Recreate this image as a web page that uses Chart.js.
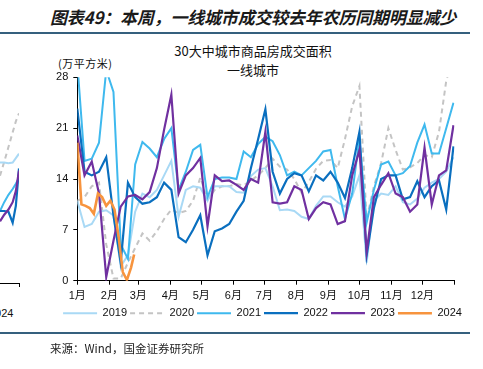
<!DOCTYPE html>
<html>
<head>
<meta charset="utf-8">
<script src="https://cdn.jsdelivr.net/npm/chart.js@4.4.1/dist/chart.umd.min.js"></script>
<style>
body{margin:0;width:483px;height:369px;overflow:hidden;background:#fff;position:relative;font-family:'Noto Sans CJK SC',sans-serif;color:#111}
.t{position:absolute;white-space:nowrap}
.rule{position:absolute;left:0;width:470px;height:2px;background:#35607e}
canvas{position:absolute}
</style>
</head>
<body>
<div class="t" id="hd" style="left:50px;top:5px;font:italic bold 17px/24px 'Noto Sans CJK SC';color:#1a1a1a;letter-spacing:-0.2px">图表49：本周，一线城市成交较去年农历同期明显减少</div>
<div class="rule" style="top:32px"></div>
<div class="t" style="left:153px;width:200px;text-align:center;top:43px;font:13px/16px 'Noto Sans CJK SC'">30大中城市商品房成交面积</div>
<div class="t" style="left:153px;width:200px;text-align:center;top:62px;font:13px/16px 'Noto Sans CJK SC'">一线城市</div>
<div class="t" style="left:58px;top:56px;font:11px/14px 'Noto Sans CJK SC';letter-spacing:0.5px">(万平方米)</div>
<div class="t" style="left:-11px;top:306px;font:11px/14px 'Liberation Sans',sans-serif">2024</div>
<canvas id="left" width="22" height="240" style="left:0;top:60px"></canvas>
<canvas id="main" width="437" height="275" style="left:45px;top:60px"></canvas>
<div class="rule" style="top:332px"></div>
<div class="t" style="left:50px;top:340px;font:11.5px/16px 'Noto Sans CJK SC';color:#222">来源：Wind，国金证券研究所</div>
<script>
// 周度数据（按一年中的天数）
const weekDays = Array.from({length: 53}, (_, i) => i * 7);
const days2024 = [0, 4, 8, 12, 16, 20, 24, 28, 32, 36, 40, 44, 48, 52, 55];

const s2019 = [11,7.4,7.8,9.5,9.7,9,2,3.5,9.5,12,11.5,12.5,14.5,16.5,8.8,12.5,13,12.8,11,13,13,13,12.2,12.1,14.4,15.3,15.5,13,9.7,9.8,9.6,8.8,8.5,10.3,11.6,11.6,10.8,10.2,11.6,14.5,2.5,11,12,11.8,13,10.8,10.5,11.3,12.8,13.5,14,15,17];
const s2020 = [11,11.5,13,13.5,5,0.3,0.3,2.5,4.5,6.5,5.5,6.8,8.5,9.8,9.3,9.6,11,14.2,11.2,12.5,13,13,13.3,13.1,13.8,14.5,15.5,16.8,15.7,15.3,14,12.1,13.6,15.4,16.5,16.6,15.5,19.5,24,26.8,8.5,13,16.2,21,18,15.3,15.6,16.2,17.3,17,20.5,27.5,31];
const s2021 = [30,16.5,16.8,19,29,26,5,3,16,19.1,18.2,17,19.5,21,12.5,15,18,18.7,11.5,14,14.2,14.2,14,17.8,17,18.8,19.8,19.2,17.3,14.5,15,14.5,15.5,16.5,17.8,18,13,8.5,12,19.5,8,12.5,16,16.4,14.5,14.8,15.8,19,21.5,17.5,17.5,21,24.5];
const s2022 = [23.7,15,14.5,15,17,9,2.5,13.5,11.5,10.6,10.8,11.5,13.5,12.5,6,5.3,7,9,3.5,6.8,7.2,7.8,9.5,11,15.5,19.5,23.6,15,12,14,14.8,14.5,12.3,14.5,13.8,15,13.5,11.4,15.5,20.5,3.5,10,14,14.5,14.5,11.2,11.5,13.7,11.5,13,13.8,9.8,18.5];
const s2023 = [20,14.5,16.4,12,0.5,5.5,10.2,11.6,11.8,11.2,12.2,15.5,20.8,25.6,12,14.5,15.5,16.9,7.5,14.5,13.7,13.8,13.2,12.5,14,13.5,20.5,10.8,10.6,10.8,13,12.5,8.5,10,10.8,10.5,7.8,8.2,14.5,18,4,11.5,13.2,14.8,12,11.5,9.5,10.5,18.3,10.5,14.5,15.2,21.4];
const s2024 = [19,10.5,10.3,10,9.2,12,11.5,10.3,11,9.8,6,1.2,0.1,1.8,3.6];

// 左侧被裁切的上一张图（年末一段）
const leftDays = [347, 351, 355, 359, 362, 365];
const left2019 = [16.4,16.4,16.3,16.4,17,17.6];
const left2020 = [14.6,16.5,18.5,20.5,22,23.1];
const left2021 = [9.8,11,12,12.8,13.5,14.3];
const left2022 = [9.8,9.8,9.7,8.2,10.5,15.6];
const left2023 = [8.4,9.3,10,11,12.5,15.3];

const monthDays = [0, 31, 59, 90, 120, 151, 181, 212, 243, 273, 304, 334, 365];
const monthLabels = ['1月','2月','3月','4月','5月','6月','7月','8月','9月','10月','11月','12月',''];
const yTicks = [0, 7, 14, 21, 28];

const colors = {
  '2019': '#a9d9f5',
  '2020': '#c4c4c4',
  '2021': '#3fb9ee',
  '2022': '#0a6fbf',
  '2023': '#7030a0',
  '2024': '#f7943e'
};

function pts(xs, ys) {
  return ys.map((y, i) => ({x: xs[i], y: y}));
}

function ds(label, xs, ys, order, width) {
  return {
    label: label,
    data: pts(xs, ys),
    borderColor: colors[label],
    backgroundColor: colors[label],
    borderWidth: width || 2.2,
    borderDash: label === '2020' ? [5, 4] : [],
    pointRadius: 0,
    tension: 0,
    order: order
  };
}

const font = {family: "'Liberation Sans','Noto Sans CJK SC',sans-serif", size: 11};

// 图例整体右移，使其居中于原图位置
const shiftLegend = {
  id: 'shiftLegend',
  afterLayout(chart) {
    if (chart.legend) {
      chart.legend.left += 12.75;
      chart.legend.right += 12.75;
    }
  }
};

new Chart(document.getElementById('main').getContext('2d'), {
  type: 'line',
  data: {
    datasets: [
      ds('2019', weekDays, s2019, 4, 2),
      ds('2020', weekDays, s2020, 5, 2),
      ds('2021', weekDays, s2021, 3, 2),
      ds('2022', weekDays, s2022, 2, 2.2),
      ds('2023', weekDays, s2023, 1, 2.2),
      ds('2024', days2024, s2024, 0, 2.6)
    ]
  },
  options: {
    responsive: false,
    animation: false,
    layout: {padding: {top: 17.3, right: 27.5, left: 0, bottom: 6.3}},
    plugins: {
      legend: {
        position: 'bottom',
        labels: {
          boxWidth: 34, boxHeight: 0, padding: 3, color: '#111', font: font,
          sort: (a, b) => a.text.localeCompare(b.text)
        }
      },
      tooltip: {enabled: false}
    },
    scales: {
      x: {
        type: 'linear', min: 0, max: 365,
        afterBuildTicks: s => { s.ticks = monthDays.map(v => ({value: v})); },
        afterFit: s => { s.height = 24; },
        ticks: {
          callback: (v, i) => monthLabels[i],
          font: font, color: '#111', padding: 5, maxRotation: 0, autoSkip: false
        },
        grid: {drawOnChartArea: false, tickLength: 4, color: '#000'},
        border: {color: '#000', width: 1}
      },
      y: {
        min: 0, max: 28,
        afterBuildTicks: s => { s.ticks = yTicks.map(v => ({value: v})); },
        afterFit: s => { s.width = 32.3; },
        ticks: {font: font, color: '#111', padding: 5},
        grid: {drawOnChartArea: false, tickLength: 4, color: '#000'},
        border: {color: '#000', width: 1}
      }
    }
  },
  plugins: [shiftLegend]
});

new Chart(document.getElementById('left').getContext('2d'), {
  type: 'line',
  data: {
    datasets: [
      ds('2019', leftDays, left2019, 4, 2),
      ds('2020', leftDays, left2020, 5, 2),
      ds('2021', leftDays, left2021, 3, 2),
      ds('2022', leftDays, left2022, 2, 2.2),
      ds('2023', leftDays, left2023, 1, 2.2)
    ]
  },
  options: {
    responsive: false,
    animation: false,
    layout: {padding: {top: 17.3, right: 3, left: 0, bottom: 0}},
    plugins: {legend: {display: false}, tooltip: {enabled: false}},
    scales: {
      x: {
        type: 'linear', min: 347, max: 365,
        afterBuildTicks: s => { s.ticks = [{value: 365}]; },
        afterFit: s => { s.height = 17; },
        ticks: {callback: () => ''},
        grid: {drawOnChartArea: false, tickLength: 4, color: '#000'},
        border: {color: '#000', width: 1}
      },
      y: {display: false, min: 0, max: 28}
    }
  }
});
</script>
</body>
</html>
